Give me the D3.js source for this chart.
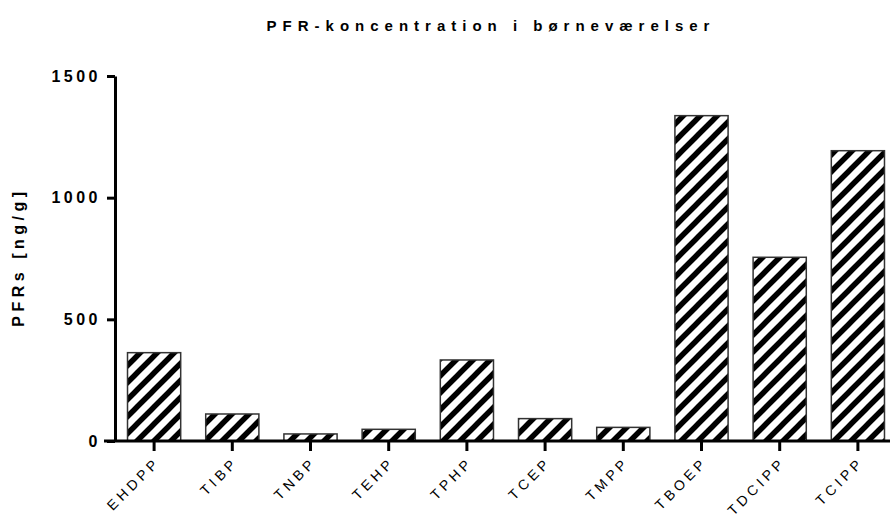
<!DOCTYPE html>
<html>
  <head>
    <meta charset="utf-8" />
    <script src="https://d3js.org/d3.v7.min.js"></script>
    <style>
      body { margin: 0; background: #fff; }
      svg { display: block; font-family: Arial, "Liberation Sans", sans-serif; }
    </style>
  </head>
  <body>
    <svg id="chart"></svg>
    <script>
      // Data
      var compounds = ["EHDPP", "TIBP", "TNBP", "TEHP", "TPHP", "TCEP", "TMPP", "TBOEP", "TDCIPP", "TCIPP"];
      var concentrations = [363, 111, 29, 48, 333, 92, 56, 1337, 755, 1193];
      var yTicks = [0, 500, 1000, 1500];

      var width = 890;
      var height = 527;

      var svg = d3.select("#chart").attr("width", width).attr("height", height);

      // Hatch pattern for the bars ("/" stripes), drawn without patternTransform
      var p = 17;
      var defs = svg.append("defs");
      var pattern = defs
        .append("pattern")
        .attr("id", "hatch")
        .attr("patternUnits", "userSpaceOnUse")
        .attr("width", p)
        .attr("height", p);
      pattern.append("rect").attr("width", p).attr("height", p).attr("fill", "white");
      pattern
        .append("path")
        .attr("d", "M-4," + (p + 4) + "L" + (p + 4) + ",-4 M-4,4 L4,-4 M" + (p - 4) + "," + (p + 4) + " L" + (p + 4) + "," + (p - 4))
        .attr("stroke", "black")
        .attr("stroke-width", 5.5);

      // Scales
      var x = d3
        .scaleBand()
        .domain(compounds)
        .range([115, 897])
        .paddingInner(0.32)
        .paddingOuter(0.16);

      var y = d3.scaleLinear().domain([0, 1500]).range([441, 76]);

      // Bars
      svg
        .append("g")
        .selectAll("rect")
        .data(compounds)
        .join("rect")
        .attr("x", (d) => x(d))
        .attr("width", x.bandwidth())
        .attr("y", (d, i) => y(concentrations[i]))
        .attr("height", (d, i) => y(0) - y(concentrations[i]))
        .attr("fill", "url(#hatch)")
        .attr("stroke", "#333")
        .attr("stroke-width", 1.5);

      // Y axis
      var yAxis = svg
        .append("g")
        .attr("transform", "translate(115,0)")
        .call(
          d3.axisLeft(y)
            .tickValues(yTicks)
            .tickFormat(d3.format("d"))
            .tickSize(8)
            .tickSizeOuter(0)
            .tickPadding(6)
        );
      yAxis.select(".domain").attr("stroke-width", 3);
      yAxis.selectAll(".tick line").attr("stroke-width", 3);
      yAxis
        .selectAll(".tick text")
        .attr("font-size", 16)
        .attr("font-weight", "bold")
        .attr("letter-spacing", 3.5)
        .attr("fill", "black");

      // X axis
      var xAxis = svg
        .append("g")
        .attr("transform", "translate(0,441)")
        .call(d3.axisBottom(x).tickSize(10).tickSizeOuter(0).tickFormat(""));
      xAxis.select(".domain").remove();
      xAxis
        .append("line")
        .attr("x1", 104)
        .attr("x2", width)
        .attr("stroke", "black")
        .attr("stroke-width", 3);
      xAxis.selectAll(".tick line").attr("stroke-width", 3);
      xAxis.selectAll(".tick text").remove();

      // Category labels along 45-degree paths
      var len = 140;
      var k = Math.SQRT1_2 * len;
      defs
        .selectAll("path.lab")
        .data(compounds)
        .join("path")
        .attr("class", "lab")
        .attr("id", (d, i) => "lab" + i)
        .attr("d", (d) => {
          var ax = x(d) + x.bandwidth() / 2 + 7;
          var ay = 463;
          return "M" + (ax - k) + "," + (ay + k) + "L" + ax + "," + ay;
        });
      svg
        .append("g")
        .selectAll("text")
        .data(compounds)
        .join("text")
        .attr("font-size", 14)
        .attr("letter-spacing", 4)
        .attr("fill", "black")
        .append("textPath")
        .attr("href", (d, i) => "#lab" + i)
        .attr("startOffset", "100%")
        .attr("text-anchor", "end")
        .text((d) => d);

      // Title
      svg
        .append("text")
        .attr("x", 491)
        .attr("y", 31)
        .attr("text-anchor", "middle")
        .attr("font-size", 15)
        .attr("font-weight", "bold")
        .attr("letter-spacing", 6)
        .text("PFR-koncentration i børneværelser");

      // Y axis label
      svg
        .append("text")
        .attr("transform", "translate(24,257) rotate(-90)")
        .attr("text-anchor", "middle")
        .attr("font-size", 16)
        .attr("font-weight", "bold")
        .attr("letter-spacing", 4.5)
        .text("PFRs [ng/g]");
    </script>
  </body>
</html>
